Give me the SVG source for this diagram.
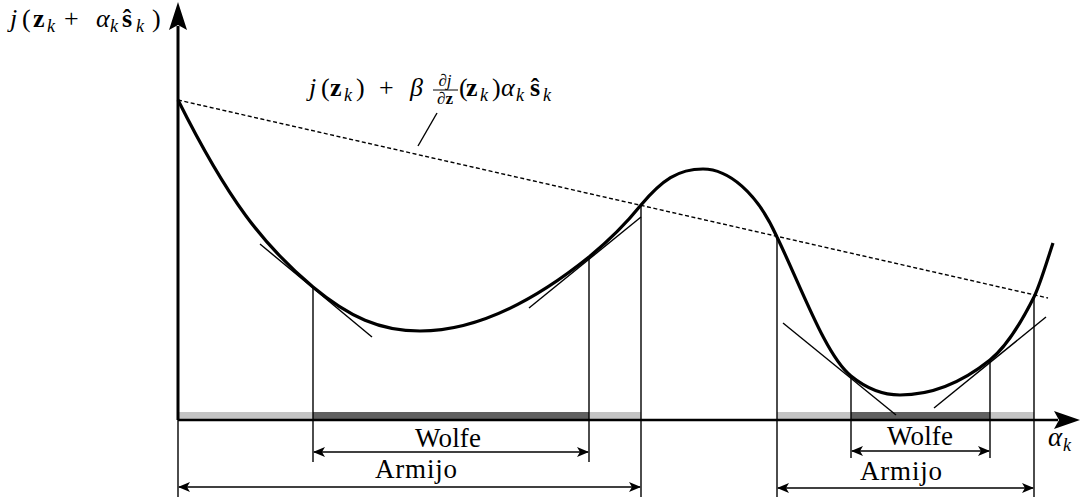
<svg xmlns="http://www.w3.org/2000/svg" width="1081" height="497" viewBox="0 0 1081 497">
<defs>
<marker id="dim" viewBox="0 0 12 10" refX="11" refY="5" markerWidth="12" markerHeight="10" markerUnits="userSpaceOnUse" orient="auto-start-reverse">
<path d="M0,0 L12,5 L0,10 L3,5 Z" fill="#000"/>
</marker>
<style>
.it{font-style:italic}
.bf{font-weight:bold}
.thin{stroke:#000;stroke-width:1.4;fill:none}
.curve{stroke:#000;stroke-width:3.2;fill:none;stroke-linejoin:round}
.dim{stroke:#000;stroke-width:1.4;fill:none;marker-start:url(#dim);marker-end:url(#dim)}
.light{fill:#c4c4c4}
.dark{fill:#606060}
</style>
</defs>
<rect width="1081" height="497" fill="#fff"/>
<g id="bars">
<rect class="light" x="178" y="412" width="463" height="7"/>
<rect class="dark" x="313" y="412" width="276" height="7"/>
<rect class="light" x="777" y="412" width="257" height="7"/>
<rect class="dark" x="851" y="412" width="139" height="7"/>
</g>
<g id="axes">
<line x1="178" y1="420" x2="178" y2="26" stroke="#000" stroke-width="3"/>
<path d="M178,2 L187,30 L178,25 L169,30 Z" fill="#000"/>
<line x1="178" y1="420" x2="1058" y2="420" stroke="#000" stroke-width="2.6"/>
<path d="M1080,420 L1054,429 L1059,420 L1054,411 Z" fill="#000"/>
</g>
<g id="armijo-line">
<line x1="178" y1="100" x2="1048" y2="298" stroke="#000" stroke-width="1.4" stroke-dasharray="4,2.5"/>
<line class="thin" x1="437" y1="113" x2="418" y2="146"/>
</g>
<g id="tangents">
<line class="thin" x1="260" y1="244" x2="372" y2="337"/>
<line class="thin" x1="529" y1="308" x2="641" y2="217"/>
<line class="thin" x1="783" y1="323" x2="896" y2="415"/>
<line class="thin" x1="934" y1="408" x2="1046" y2="317"/>
</g>
<g id="verticals">
<line class="thin" x1="178" y1="420" x2="178" y2="497"/>
<line class="thin" x1="313" y1="287" x2="313" y2="462"/>
<line class="thin" x1="589" y1="257" x2="589" y2="462"/>
<line class="thin" x1="641" y1="205" x2="641" y2="497"/>
<line class="thin" x1="777" y1="237" x2="777" y2="497"/>
<line class="thin" x1="851" y1="376" x2="851" y2="458"/>
<line class="thin" x1="990" y1="360" x2="990" y2="458"/>
<line class="thin" x1="1034" y1="297" x2="1034" y2="497"/>
</g>
<g id="function-curve">
<path class="curve" d="M178,100 C228,200 263,245 313,287 C349,317 380,331 420,331 C476,331 533,302 589,257 C606,243 624,226 641,205 C662,180 678,169 703,169 C728,169 757,192 777,237 C802,289 826,356 851,376 C867,389 884,395 900,395 C930,395 960,384 990,360 C1005,348 1019,327 1034,297 C1040,285 1047,261 1053,243"/>
</g>
<g id="connectors">
<line class="dim" x1="314" y1="452" x2="588" y2="452"/>
<line class="dim" x1="179" y1="487" x2="640" y2="487"/>
<line class="dim" x1="852" y1="451" x2="989" y2="451"/>
<line class="dim" x1="778" y1="488" x2="1033" y2="488"/>
</g>
<g id="labels" font-family="Liberation Serif, DejaVu Serif, serif" fill="#000">
<text font-family="Liberation Serif, serif" x="448" y="447" font-size="27" text-anchor="middle" textLength="66">Wolfe</text>
<text font-family="Liberation Serif, serif" x="416" y="478" font-size="27" text-anchor="middle" textLength="82">Armijo</text>
<text font-family="Liberation Serif, serif" x="920" y="445" font-size="27" text-anchor="middle" textLength="66">Wolfe</text>
<text font-family="Liberation Serif, serif" x="901" y="480" font-size="27" text-anchor="middle" textLength="82">Armijo</text>
<text font-family="Liberation Serif, serif" font-size="27"><tspan class="it" x="1048" y="446">α</tspan><tspan class="it" font-size="18" x="1063" y="451">k</tspan></text>
<text font-family="Liberation Serif, serif" font-size="26"><tspan class="it" x="10" y="27">j</tspan><tspan x="22" y="27">(</tspan><tspan class="bf" x="33" y="27">z</tspan><tspan class="it" font-size="18" x="47" y="32">k</tspan><tspan x="64" y="27">+</tspan><tspan class="it" x="96" y="27">α</tspan><tspan class="it" font-size="18" x="110" y="32">k</tspan><tspan class="bf" x="122" y="27">ŝ</tspan><tspan class="it" font-size="18" x="136" y="32">k</tspan><tspan x="152" y="27">)</tspan></text>
<text font-family="Liberation Serif, serif" font-size="26"><tspan class="it" x="309" y="96">j</tspan><tspan x="321" y="96">(</tspan><tspan class="bf" x="330" y="96">z</tspan><tspan class="it" font-size="18" x="344" y="101">k</tspan><tspan x="356" y="96">)</tspan><tspan x="379" y="96">+</tspan><tspan class="it" x="410" y="96">β</tspan><tspan x="459" y="96">(</tspan><tspan class="bf" x="466" y="96">z</tspan><tspan class="it" font-size="18" x="480" y="101">k</tspan><tspan x="492" y="96">)</tspan><tspan class="it" x="501" y="96">α</tspan><tspan class="it" font-size="18" x="516" y="101">k</tspan><tspan class="bf" x="530" y="96">ŝ</tspan><tspan class="it" font-size="18" x="543" y="101">k</tspan></text>
<text font-family="Liberation Serif, serif" font-size="17" text-anchor="middle"><tspan class="it" x="445" y="86">∂j</tspan></text>
<line x1="433" y1="90" x2="458" y2="90" stroke="#000" stroke-width="1"/>
<text font-family="Liberation Serif, serif" font-size="17" text-anchor="middle" x="445" y="104"><tspan class="it">∂</tspan><tspan class="bf">z</tspan></text>
</g>
</svg>
